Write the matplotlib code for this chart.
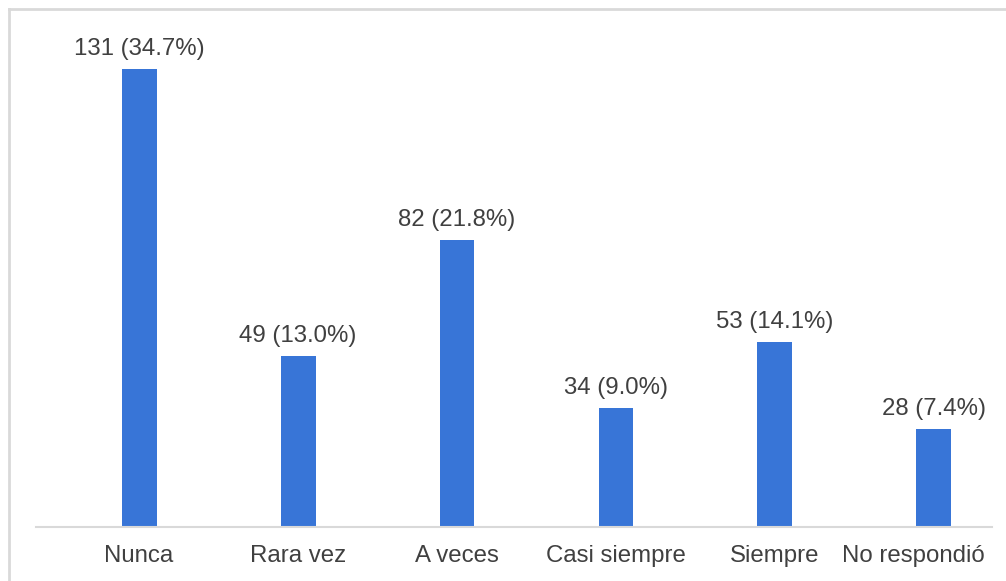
import matplotlib
matplotlib.use('Agg')
import matplotlib.pyplot as plt
import matplotlib.transforms as mtransforms
from matplotlib.lines import Line2D

categories = ['Nunca', 'Rara vez', 'A veces', 'Casi siempre', 'Siempre', 'No respondió']
counts = [131, 49, 82, 34, 53, 28]
percents = [34.7, 13.0, 21.8, 9.0, 14.1, 7.4]

plt.rcParams['font.family'] = ['Liberation Sans', 'DejaVu Sans']

W, H = 1006, 581
fig = plt.figure(figsize=(W / 100, H / 100), dpi=100)
ax = fig.add_axes([36 / W, 1 - 527 / H, (992 - 36) / W, (527 - 20) / H])

x = list(range(len(categories)))
ax.bar(x, counts, width=0.22, color='#3875d7', zorder=2)

for xi, c, p in zip(x, counts, percents):
    ax.annotate(f'{c} ({p:.1f}%)', (xi, c), xytext=(0, 6.5), textcoords='offset points',
                ha='center', va='bottom', fontsize=17.3, color='#404040')

ax.set_xlim(-0.648, 5.365)
ax.set_ylim(0, 145)
ax.set_xticks(x)
ax.set_xticklabels(categories, fontsize=17.3, color='#404040')
ax.tick_params(axis='x', length=0, pad=13)
ax.set_yticks([])
for side in ['top', 'right', 'left']:
    ax.spines[side].set_visible(False)
ax.spines['bottom'].set_color('#d9d9d9')
ax.spines['bottom'].set_linewidth(1.5)
ax.spines['bottom'].set_zorder(3)

# last label is pushed left so it stays inside the chart, like in the source
last = ax.get_xticklabels()[-1]
shift = mtransforms.ScaledTranslation(-21 / 100, 0, fig.dpi_scale_trans)
last.set_transform(last.get_transform() + shift)

# outer frame (top and left edges visible in the source)
fig.add_artist(Line2D([8.5 / W, 8.5 / W], [0, 1 - 9 / H], color='#d9d9d9', lw=2))
fig.add_artist(Line2D([8.5 / W, 1], [1 - 9 / H, 1 - 9 / H], color='#d9d9d9', lw=2))

fig.savefig('out.png', dpi=100, facecolor='white')
